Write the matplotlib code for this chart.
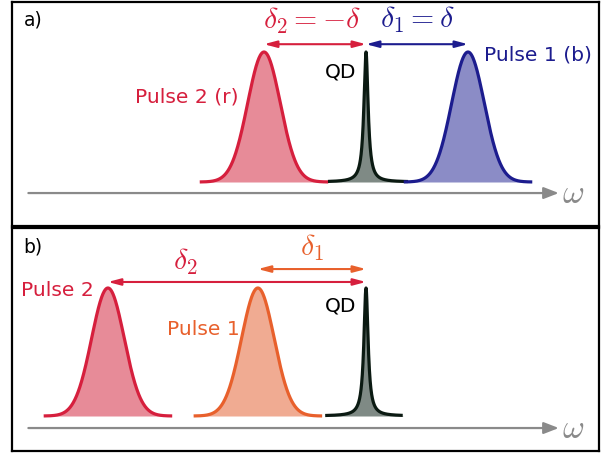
import numpy as np
import matplotlib
matplotlib.use("Agg")
import matplotlib.pyplot as plt

plt.rcParams["mathtext.fontset"] = "cm"
plt.rcParams["font.family"] = ["DejaVu Sans"]

# ---- data (frequency in units of the detuning delta, height normalised) ----
# panel a: symmetric two-colour excitation
a_centers = [-1.0, 1.0]          # pulse 2 (r), pulse 1 (b)
a_labels = ["Pulse 2 (r)", "Pulse 1 (b)"]
a_qd_window = [-0.373, 0.412]
# panel b: both pulses red-detuned
b_centers = [-2.53, -1.06]       # pulse 2, pulse 1
b_labels = ["Pulse 2", "Pulse 1"]
b_qd_window = [-0.40, 0.36]

qd_center = 0.0
pulse_sigma = 0.16
pulse_halfwidth = 0.63
qd_gamma = 0.025

RED, RED_F = "#d61f3d", "#e78b98"
BLUE, BLUE_F = "#1c1c8e", "#8b8cc6"
ORANGE, ORANGE_F = "#e8602c", "#f0ab92"
QD, QD_F = "#0b1a12", "#7f8a85"
GREY = "#8a8a8a"

LW = 2.3
FS = 14.6
MFS = 21.5


def gauss(x, c):
    return np.exp(-0.5 * ((x - c) / pulse_sigma) ** 2)


def lorentz(x, c):
    return qd_gamma ** 2 / (qd_gamma ** 2 + (x - c) ** 2)


def draw_pulse(ax, c, line, fill):
    x = np.linspace(c - pulse_halfwidth, c + pulse_halfwidth, 400)
    y = gauss(x, c)
    ax.fill_between(x, 0, y, color=fill, lw=0)
    ax.plot(x, y, color=line, lw=LW, solid_capstyle="butt")


def draw_qd(ax, window):
    x = np.linspace(window[0], window[1], 2000)
    y = lorentz(x, qd_center)
    ax.fill_between(x, 0, y, color=QD_F, lw=0)
    ax.plot(x, y, color=QD, lw=LW, solid_capstyle="butt")


def freq_axis(ax, y, x0, x1):
    ax.annotate("", xy=(x1, y), xytext=(x0, y),
                arrowprops=dict(arrowstyle="-|>,head_length=0.9,head_width=0.35",
                                color=GREY, lw=1.6, shrinkA=0, shrinkB=0))
    ax.text(x1 + 0.03, y - 0.005, r"$\omega$", color=GREY, fontsize=24,
            ha="left", va="center")


def dbl_arrow(ax, x0, x1, y, color):
    ax.annotate("", xy=(x1, y), xytext=(x0, y),
                arrowprops=dict(arrowstyle="<|-|>,head_length=0.75,head_width=0.2",
                                color=color, lw=1.5, shrinkA=0, shrinkB=0))


fig = plt.figure(figsize=(6.06, 4.55), dpi=100)
W, H = 606.0, 455.0

# panel a
axa = fig.add_axes([12 / W, (H - 226) / H, 587 / W, 224 / H])
axa.set_xlim((12 - 366) / 102, (599 - 366) / 102)
axa.set_ylim((182 - 226) / 130, (182 - 2) / 130)

draw_pulse(axa, a_centers[0], RED, RED_F)
draw_qd(axa, a_qd_window)
draw_pulse(axa, a_centers[1], BLUE, BLUE_F)
freq_axis(axa, -0.085, -3.31, 1.89)
dbl_arrow(axa, a_centers[0], qd_center, 1.06, RED)
dbl_arrow(axa, qd_center, a_centers[1], 1.06, BLUE)
axa.text(-0.525, 1.235, r"$\delta_2=-\delta$", color=RED, fontsize=MFS,
         ha="center", va="center")
axa.text(0.50, 1.245, r"$\delta_1=\delta$", color=BLUE, fontsize=MFS,
         ha="center", va="center")
axa.text(-0.245, 0.846, "QD", color="black", fontsize=FS, ha="center", va="center")
axa.text(-1.25, 0.654, a_labels[0], color=RED, fontsize=FS, ha="right", va="center")
axa.text(1.16, 0.977, a_labels[1], color=BLUE, fontsize=FS, ha="left", va="center")
axa.text(0.02, 0.92, "a)", transform=axa.transAxes, fontsize=13.5, ha="left", va="center")

# panel b
axb = fig.add_axes([12 / W, (H - 451) / H, 587 / W, 223 / H])
axb.set_xlim((12 - 366) / 102, (599 - 366) / 102)
axb.set_ylim((416 - 451) / 128, (416 - 228) / 128)

draw_pulse(axb, b_centers[0], RED, RED_F)
draw_pulse(axb, b_centers[1], ORANGE, ORANGE_F)
draw_qd(axb, b_qd_window)
freq_axis(axb, -0.094, -3.31, 1.89)
dbl_arrow(axb, b_centers[0], qd_center, 1.047, RED)
dbl_arrow(axb, b_centers[1], qd_center, 1.148, ORANGE)
axb.text(-1.77, 1.20, r"$\delta_2$", color=RED, fontsize=MFS, ha="center", va="center")
axb.text(-0.53, 1.31, r"$\delta_1$", color=ORANGE, fontsize=MFS, ha="center", va="center")
axb.text(-3.38, 0.984, b_labels[0], color=RED, fontsize=FS, ha="left", va="center")
axb.text(-1.235, 0.672, b_labels[1], color=ORANGE, fontsize=FS, ha="right", va="center")
axb.text(-0.245, 0.86, "QD", color="black", fontsize=FS, ha="center", va="center")
axb.text(0.02, 0.915, "b)", transform=axb.transAxes, fontsize=13.5, ha="left", va="center")

for ax in (axa, axb):
    ax.set_xticks([])
    ax.set_yticks([])
    for s in ax.spines.values():
        s.set_linewidth(1.6)
        s.set_color("black")

fig.savefig("out.png", dpi=100)
